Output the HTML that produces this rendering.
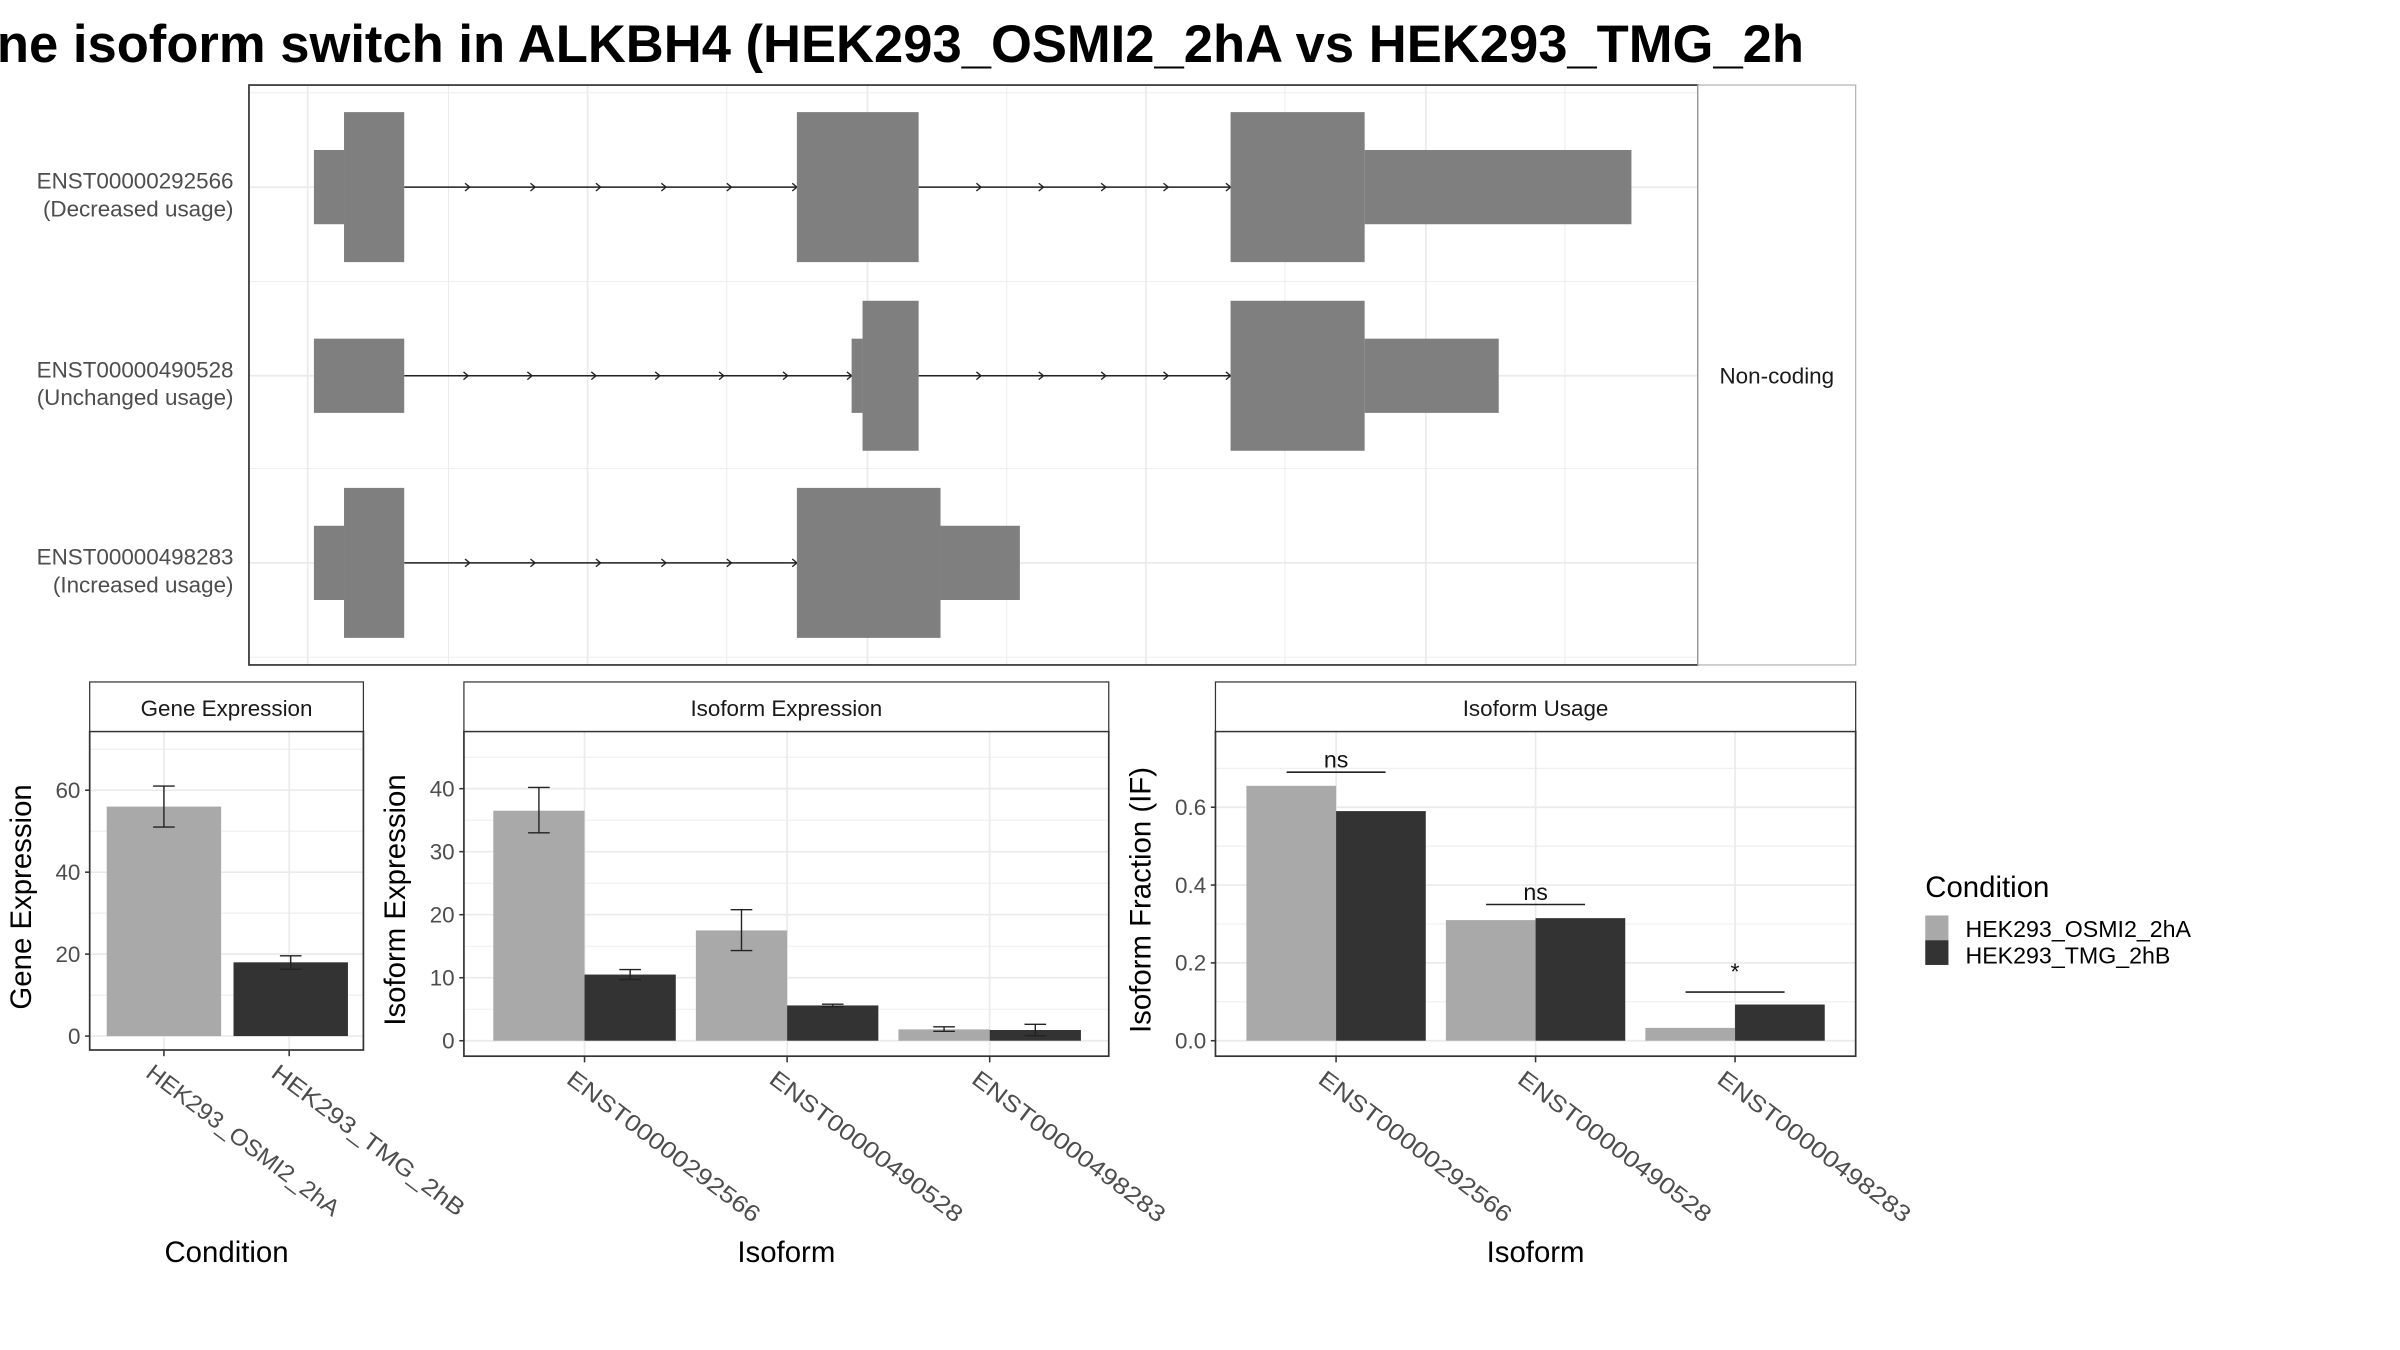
<!DOCTYPE html>
<html><head><meta charset="utf-8"><style>
html,body{margin:0;padding:0;background:#fff;}
svg{display:block;font-family:"Liberation Sans",sans-serif;}
</style></head><body>
<svg id="chart" width="2400" height="1350" viewBox="0 0 1552 873" xmlns="http://www.w3.org/2000/svg">
<rect x="0" y="0" width="1552" height="873" fill="#fff"/>
<text x="-2" y="40" font-size="34" font-weight="bold" fill="#000">ne isoform switch in ALKBH4 (HEK293_OSMI2_2hA vs HEK293_TMG_2h</text>
<g id="top"></g>
<g id="ge"></g>
<g id="ie"></g>
<g id="iu"></g>
<g id="legend">
<text x="1245" y="580" font-size="19">Condition</text>
<rect x="1245" y="592" width="15" height="16" fill="#a9a9a9"/>
<rect x="1245" y="608" width="15" height="16" fill="#333"/>
<text x="1271" y="606" font-size="15">HEK293_OSMI2_2hA</text>
<text x="1271" y="623" font-size="15">HEK293_TMG_2hB</text>
</g>
</svg>
<script>
const NS="http://www.w3.org/2000/svg";
function mk(parent,tag,attrs,text){const e=document.createElementNS(NS,tag);for(const k in attrs)e.setAttribute(k,attrs[k]);if(text!==undefined)e.textContent=text;parent.appendChild(e);return e;}

// ===== Data =====
const conditions=["HEK293_OSMI2_2hA","HEK293_TMG_2hB"];
const geneExpr=[56,18];
const geneLo=[51,16.3];
const geneHi=[61,19.6];
const geneTicks=[0,20,40,60];

const isoforms=["ENST00000292566","ENST00000490528","ENST00000498283"];
const isoExprA=[36.5,17.5,1.8];
const isoExprB=[10.5,5.6,1.7];
const isoLoA=[33,14.3,1.5];
const isoHiA=[40.2,20.8,2.2];
const isoLoB=[9.7,5.4,0.8];
const isoHiB=[11.3,5.8,2.6];
const isoExprTicks=[0,10,20,30,40];

const ifA=[0.655,0.31,0.033];
const ifB=[0.59,0.315,0.093];
const ifTicks=[0,0.2,0.4,0.6];
const ifTickLabels=["0.0","0.2","0.4","0.6"];
const sigLabels=["ns","ns","*"];
const sigY=[0.69,0.35,0.125];

const isoLabels=["(Decreased usage)","(Unchanged usage)","(Increased usage)"];
// exons: [start,end,thick(1)/thin(0)] in genomic-ish units (0..100)
const exons=[
 [[0,2.2,0],[2.2,6.6,1],[35.3,44.2,1],[67,76.8,1],[76.8,96.3,0]],
 [[0,6.6,0],[39.3,40.1,0],[40.1,44.2,1],[67,76.8,1],[76.8,86.6,0]],
 [[0,2.2,0],[2.2,6.6,1],[35.3,45.8,1],[45.8,51.6,0]]
];
const introns=[[[6.6,35.3],[44.2,67]],[[6.6,39.3],[44.2,67]],[[6.6,35.3]]];

const LIGHT="#a9a9a9",DARK="#333333",GRID="#ebebeb";

// ===== Top structure panel =====
(function(){
 const g=document.getElementById('top');
 const x0=161,x1=1098,y0=55,y1=430;
 const gx=v=>203+v*(1055-203)/96.3;
 const rowY=[121,243,364];
 mk(g,'rect',{x:x0,y:y0,width:x1-x0,height:y1-y0,fill:'#fff'});
 [199,290,380,470,561,651,741,831,922,1012].forEach((x,i)=>{const l=mk(g,'line',{x1:x,x2:x,y1:y0,y2:y1,stroke:GRID,'stroke-width':i%2?0.6:1.1});});
 [60,182,303,425].forEach(y=>{const l=mk(g,'line',{x1:x0,x2:x1,y1:y,y2:y,stroke:GRID,'stroke-width':0.6});});
 rowY.forEach(y=>{const l=mk(g,'line',{x1:x0,x2:x1,y1:y,y2:y,stroke:GRID,'stroke-width':1.1});});
 isoforms.forEach((iso,i)=>{
  const cy=rowY[i];
  introns[i].forEach(([a,b])=>{
   const xa=gx(a),xb=gx(b);
   const l=mk(g,'line',{x1:xa,x2:xb,y1:cy,y2:cy,stroke:'#222','stroke-width':1});
   
   
   const n=Math.max(1,Math.round((xb-xa)/41));
   for(let k=1;k<=n;k++){const ax=xa+(xb-xa)*k/n;const p=mk(g,'path',{d:`M${ax-3},${cy-2.5} L${ax},${cy} L${ax-3},${cy+2.5}`,fill:'none',stroke:'#222','stroke-width':0.9});}
  });
  exons[i].forEach(([a,b,t])=>{
   const h=t?97:48;
   const r=mk(g,'rect',{x:gx(a),y:cy-h/2,width:gx(b)-gx(a),height:h,fill:'#7f7f7f'});
   
   
  });
  const t1=mk(g,'text',{x:151,y:cy+1,'text-anchor':'end','font-size':14.5,fill:'#4d4d4d'},iso);
  
  
  const t2=mk(g,'text',{x:151,y:cy+19,'text-anchor':'end','font-size':14.5,fill:'#4d4d4d'},isoLabels[i]);
  
  
 });
 const b=mk(g,'rect',{x:x0,y:y0,width:x1-x0,height:y1-y0,fill:'none',stroke:'#333','stroke-width':1.1});
 
 
 const s=mk(g,'rect',{x:x1,y:y0,width:1200-x1,height:y1-y0,fill:'#fff',stroke:'#b3b3b3','stroke-width':0.8});
 
 
 const st=mk(g,'text',{x:1149,y:248,'text-anchor':'middle','font-size':14.5,fill:'#1a1a1a'},'Non-coding');
 
 
})();

// ===== generic bar panel =====
function panel(gid,o){
 const g=document.getElementById(gid);
 const y=v=>o.y0px+(v-0)*(o.y1px-o.y0px)/(o.yv1);
 mk(g,'rect',{x:o.x0,y:o.top,width:o.x1-o.x0,height:o.bottom-o.top,fill:'#fff'});
 // minor grid
 for(let k=0;k<o.ticks.length;k++){
  const mid=o.ticks[k]+(o.ticks[1]-o.ticks[0])/2;
  const my=y(mid);
  if(my>o.top){const l=mk(g,'line',{x1:o.x0,x2:o.x1,y1:my,y2:my,stroke:GRID,'stroke-width':0.6});}
 }
 o.ticks.forEach((t,k)=>{
  const ty=y(t);
  const l=mk(g,'line',{x1:o.x0,x2:o.x1,y1:ty,y2:ty,stroke:GRID,'stroke-width':1.1});
  
  
  const tk=mk(g,'line',{x1:o.x0-3,x2:o.x0,y1:ty,y2:ty,stroke:'#333','stroke-width':1});
  
  
  const tl=mk(g,'text',{x:o.x0-6,y:ty+5,'text-anchor':'end','font-size':14.5,fill:'#4d4d4d'},o.tickLabels[k]);
  
  
 });
 o.cats.forEach((c,i)=>{
  const cx=o.cx(i);
  const l=mk(g,'line',{x1:cx,x2:cx,y1:o.top,y2:o.bottom,stroke:GRID,'stroke-width':1.1});
  
  
 });
 o.bars.forEach(b=>{
  const top=y(b.v),base=y(0);
  const r=mk(g,'rect',{x:b.x,y:top,width:b.w,height:base-top,fill:b.fill});
  
  
  if(b.lo!==undefined){
   const ex=b.x+b.w/2,ylo=y(b.lo),yhi=y(b.hi);
   const p=mk(g,'path',{d:`M${ex},${ylo} L${ex},${yhi} M${ex-7},${ylo} L${ex+7},${ylo} M${ex-7},${yhi} L${ex+7},${yhi}`,stroke:'#222','stroke-width':0.9,fill:'none'});
   
   
  }
 });
 if(o.sig){o.sig.forEach(s=>{
  const sy=y(s.v);
  const l=mk(g,'line',{x1:s.cx-32,x2:s.cx+32,y1:sy,y2:sy,stroke:'#222','stroke-width':1});
  
  
  const t=mk(g,'text',{x:s.cx,y:sy-(s.t==='*'?8:3),'text-anchor':'middle','font-size':15,fill:'#111'},s.t);
  
  
 });}
 const b=mk(g,'rect',{x:o.x0,y:o.top,width:o.x1-o.x0,height:o.bottom-o.top,fill:'none',stroke:'#333','stroke-width':1.1});
 
 
 const st=mk(g,'rect',{x:o.x0,y:441,width:o.x1-o.x0,height:32,fill:'#fff',stroke:'#333','stroke-width':0.8});
 
 
 const stt=mk(g,'text',{x:(o.x0+o.x1)/2,y:463,'text-anchor':'middle','font-size':14.5,fill:'#1a1a1a'},o.strip);
 
 
 o.cats.forEach((c,i)=>{
  const cx=o.cx(i);
  const tk=mk(g,'line',{x1:cx,x2:cx,y1:o.bottom,y2:o.bottom+4,stroke:'#333','stroke-width':1});
  
  
  const t=mk(g,'text',{x:0,y:0,'font-size':15,fill:'#4d4d4d','dominant-baseline':'hanging',transform:`translate(${cx-6},${o.bottom+8}) rotate(37)`,textLength:o.labLen,lengthAdjust:'spacingAndGlyphs'},c);
  
  
 });
 const xt=mk(g,'text',{x:(o.x0+o.x1)/2,y:816,'text-anchor':'middle','font-size':19,fill:'#000'},o.xtitle);
 
 
 const ymid=(o.top+o.bottom)/2+4;
 const yt=mk(g,'text',{x:0,y:0,'text-anchor':'middle','font-size':19,fill:'#000',transform:`translate(${o.ytx},${ymid}) rotate(-90)`},o.ytitle);
 
 
}

// Gene expression
panel('ge',{x0:58,x1:235,top:473,bottom:679,y0px:670,y1px:511,yv1:60,
 ticks:geneTicks,tickLabels:geneTicks.map(String),cats:conditions,
 cx:i=>[106,187][i],
 bars:geneExpr.map((v,i)=>({v:v,x:[69,151][i],w:74,fill:i?DARK:LIGHT,lo:geneLo[i],hi:geneHi[i],name:'bar-gene-'+conditions[i]})),
 strip:'Gene Expression',xtitle:'Condition',ytitle:'Gene Expression',ytx:20,labLen:152});

// Isoform expression
const ieCx=i=>378+i*131;
panel('ie',{x0:300,x1:717,top:473,bottom:683,y0px:673,y1px:510,yv1:40,
 ticks:isoExprTicks,tickLabels:isoExprTicks.map(String),cats:isoforms,cx:ieCx,
 bars:isoforms.flatMap((c,i)=>[
  {v:isoExprA[i],x:ieCx(i)-59,w:59,fill:LIGHT,lo:isoLoA[i],hi:isoHiA[i],name:'bar-isoexpr-osmi2-'+c},
  {v:isoExprB[i],x:ieCx(i),w:59,fill:DARK,lo:isoLoB[i],hi:isoHiB[i],name:'bar-isoexpr-tmg-'+c}]),
 strip:'Isoform Expression',xtitle:'Isoform',ytitle:'Isoform Expression',ytx:262,labLen:152});

// Isoform usage
const iuCx=i=>864+i*129;
panel('iu',{x0:786,x1:1200,top:473,bottom:683,y0px:673,y1px:522,yv1:0.6,
 ticks:ifTicks,tickLabels:ifTickLabels,cats:isoforms,cx:iuCx,
 bars:isoforms.flatMap((c,i)=>[
  {v:ifA[i],x:iuCx(i)-58,w:58,fill:LIGHT,name:'bar-if-osmi2-'+c},
  {v:ifB[i],x:iuCx(i),w:58,fill:DARK,name:'bar-if-tmg-'+c}]),
 sig:isoforms.map((c,i)=>({cx:iuCx(i),v:sigY[i],t:sigLabels[i]})),
 strip:'Isoform Usage',xtitle:'Isoform',ytitle:'Isoform Fraction (IF)',ytx:744,labLen:152});
</script>
</body></html>
